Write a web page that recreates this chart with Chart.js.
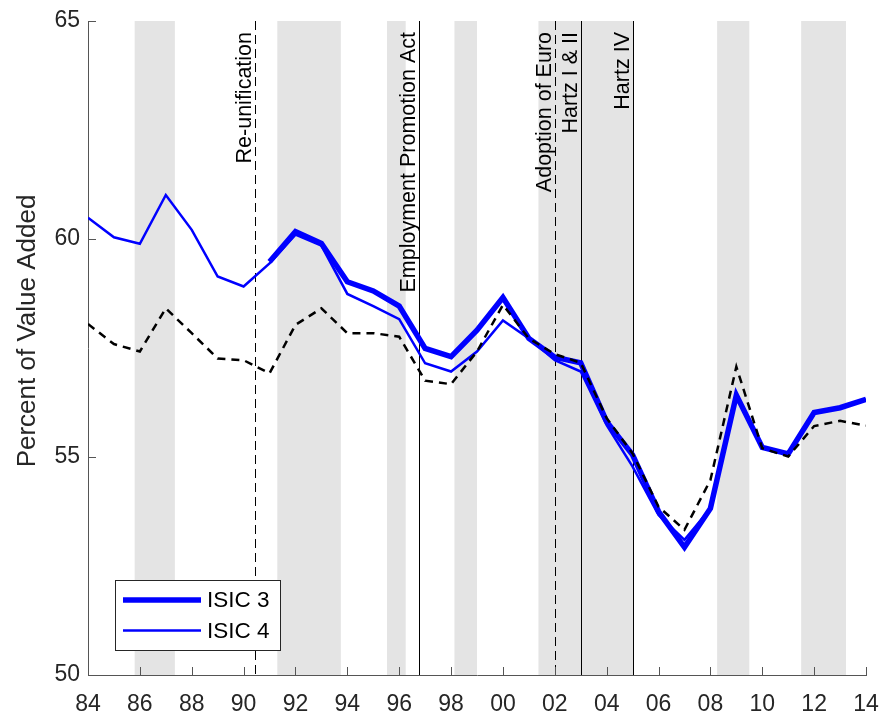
<!DOCTYPE html>
<html>
<head>
<meta charset="utf-8">
<title>Percent of Value Added</title>
<script src="https://cdn.jsdelivr.net/npm/chart.js@4.4.1/dist/chart.umd.min.js"></script>
<style>
  html, body { margin: 0; padding: 0; background: #fff; }
  canvas { display: block; }
</style>
</head>
<body>
<canvas id="chart" width="881" height="715"></canvas>
<script>
// ── Data ──────────────────────────────────────────────────────────────────────
const years = [1984, 1985, 1986, 1987, 1988, 1989, 1990, 1991, 1992, 1993, 1994,
    1995, 1996, 1997, 1998, 1999, 2000, 2001, 2002, 2003, 2004, 2005, 2006, 2007,
    2008, 2009, 2010, 2011, 2012, 2013, 2014];

const isic3Values = [null, null, null, null, null, null, null, 59.48, 60.17, 59.90,
    59.02, 58.81, 58.46, 57.49, 57.30, 57.91, 58.66, 57.72, 57.29, 57.16, 55.81,
    55.05, 53.75, 52.93, 53.82, 56.42, 55.22, 55.07, 56.02, 56.13, 56.32];

const isic4Values = [60.49, 60.04, 59.89, 61.01, 60.21, 59.14, 58.91, 59.44, 60.10,
    59.85, 58.74, 58.46, 58.16, 57.15, 56.96, 57.42, 58.13, 57.72, 57.22, 56.96,
    55.73, 54.78, 53.67, 53.10, 53.82, 56.42, 55.22, 55.07, 56.02, 56.13, 56.32];

const dashedValues = [58.05, 57.59, 57.42, 58.41, 57.84, 57.26, 57.22, 56.92, 58.03,
    58.41, 57.84, 57.84, 57.76, 56.75, 56.67, 57.42, 58.49, 57.72, 57.36, 57.16,
    55.89, 55.08, 53.86, 53.33, 54.47, 57.07, 55.20, 55.01, 55.71, 55.83, 55.72];

const xTickLabels = ["84", "86", "88", "90", "92", "94", "96", "98", "00", "02",
    "04", "06", "08", "10", "12", "14"];
const yTickLabels = ["50", "55", "60", "65"];

// shaded periods
const recessionStarts = [1985.8, 1991.3, 1995.53, 1998.13, 2001.37, 2008.26, 2011.5];
const recessionEnds = [1987.35, 1993.75, 1996.25, 1999.0, 2005.03, 2009.5, 2013.23];

// policy events
const eventYears = [1990.44, 1996.78, 2002.0, 2003.0, 2005.0];
const eventLabels = ["Re-unification", "Employment Promotion Act", "Adoption of Euro",
    "Hartz I & II", "Hartz IV"];
const eventDashed = [true, false, true, false, false];

const yTitle = "Percent of Value Added";

// ── Helpers ───────────────────────────────────────────────────────────────────
const FONT = "'Liberation Sans', Arial, Helvetica, sans-serif";
const TEXT = "#262626";
const AXIS = "#555";

const toPoints = (vals) => years.map((yr, i) => ({ x: yr, y: vals[i] }));

// ── Plugins ───────────────────────────────────────────────────────────────────
const backdrop = {
    id: "backdrop",
    beforeDraw(chart) {
        const { ctx, chartArea: a, scales: { x } } = chart;
        ctx.save();

        ctx.fillStyle = "#e4e4e4";
        recessionStarts.forEach((s, i) => {
            const x0 = x.getPixelForValue(s);
            const x1 = x.getPixelForValue(recessionEnds[i]);
            ctx.fillRect(x0, a.top, x1 - x0, a.bottom - a.top);
        });

        ctx.strokeStyle = "#000";
        ctx.lineWidth = 1;
        eventYears.forEach((yr, i) => {
            const px = Math.round(x.getPixelForValue(yr)) + 0.5;
            ctx.setLineDash(eventDashed[i] ? [9, 5] : []);
            ctx.beginPath();
            ctx.moveTo(px, a.top);
            ctx.lineTo(px, a.bottom);
            ctx.stroke();
        });
        ctx.setLineDash([]);

        ctx.fillStyle = "#000";
        ctx.font = `21.5px ${FONT}`;
        ctx.textAlign = "right";
        ctx.textBaseline = "alphabetic";
        eventYears.forEach((yr, i) => {
            const px = x.getPixelForValue(yr);
            ctx.save();
            ctx.translate(px - 4, a.top + 11);
            ctx.rotate(-Math.PI / 2);
            ctx.fillText(eventLabels[i], 0, 0);
            ctx.restore();
        });

        // y axis title, centred a little above the axis middle as in the original
        ctx.fillStyle = TEXT;
        ctx.font = `26px ${FONT}`;
        ctx.textAlign = "center";
        ctx.textBaseline = "middle";
        ctx.translate(28, 331);
        ctx.rotate(-Math.PI / 2);
        ctx.fillText(yTitle, 0, 0);
        ctx.restore();
    },
};

// MATLAB style ticks point into the plot
const innerTicks = {
    id: "innerTicks",
    beforeDatasetsDraw(chart) {
        const { ctx, chartArea: a, scales: { x, y } } = chart;
        ctx.save();
        ctx.strokeStyle = AXIS;
        ctx.lineWidth = 1;
        ctx.beginPath();
        x.ticks.forEach((t) => {
            const px = Math.round(x.getPixelForValue(t.value)) + 0.5;
            ctx.moveTo(px, a.bottom);
            ctx.lineTo(px, a.bottom - 8);
        });
        y.ticks.forEach((t) => {
            const py = Math.round(y.getPixelForValue(t.value)) + 0.5;
            ctx.moveTo(a.left, py);
            ctx.lineTo(a.left + 8, py);
        });
        ctx.stroke();
        ctx.restore();
    },
};

const boxLegend = {
    id: "boxLegend",
    afterDraw(chart) {
        const { ctx } = chart;
        const shown = chart.data.datasets.filter((d) => d.label);
        ctx.save();
        ctx.fillStyle = "#fff";
        ctx.fillRect(115, 580, 165, 70);
        ctx.strokeStyle = "#262626";
        ctx.lineWidth = 1;
        ctx.strokeRect(115.5, 580.5, 165, 70);

        ctx.font = `22.5px ${FONT}`;
        ctx.textAlign = "left";
        ctx.textBaseline = "middle";
        shown.forEach((d, i) => {
            const ly = 600 + i * 30.5;
            ctx.strokeStyle = d.borderColor;
            ctx.lineWidth = d.borderWidth;
            ctx.beginPath();
            ctx.moveTo(123, ly);
            ctx.lineTo(201, ly);
            ctx.stroke();
            ctx.fillStyle = "#000";
            ctx.fillText(d.label, 207, ly + 1);
        });
        ctx.restore();
    },
};

// ── Chart ─────────────────────────────────────────────────────────────────────
new Chart(document.getElementById("chart").getContext("2d"), {
    type: "line",
    data: {
        datasets: [
            {
                label: "ISIC 3",
                data: toPoints(isic3Values),
                borderColor: "#0000ff",
                borderWidth: 5.5,
                pointRadius: 0,
                order: 2,
            },
            {
                label: "ISIC 4",
                data: toPoints(isic4Values),
                borderColor: "#0000ff",
                borderWidth: 2.5,
                pointRadius: 0,
                order: 1,
            },
            {
                label: "",
                data: toPoints(dashedValues),
                borderColor: "#000",
                borderWidth: 2.5,
                borderDash: [8, 6],
                pointRadius: 0,
                order: 0,
            },
        ],
    },
    options: {
        responsive: false,
        animation: false,
        devicePixelRatio: 1,
        layout: { padding: { top: 21, right: 15, left: 0, bottom: 0 } },
        plugins: {
            legend: { display: false },
            tooltip: { enabled: false },
        },
        elements: { line: { tension: 0, borderJoinStyle: "miter", borderCapStyle: "butt" } },
        scales: {
            x: {
                type: "linear",
                min: 1984,
                max: 2014,
                afterFit: (s) => {
                    s.height = 40;
                    s.paddingLeft = 0;
                    s.paddingRight = 0;
                },
                grid: { drawOnChartArea: false, drawTicks: false },
                border: { color: AXIS, width: 1 },
                ticks: {
                    stepSize: 2,
                    autoSkip: false,
                    maxRotation: 0,
                    padding: 16,
                    color: TEXT,
                    font: { family: FONT, size: 23 },
                    callback: (v, i) => xTickLabels[i],
                },
            },
            y: {
                min: 50,
                max: 65,
                afterFit: (s) => {
                    s.width = 88;
                    s.paddingTop = 0;
                    s.paddingBottom = 0;
                },
                grid: { drawOnChartArea: false, drawTicks: false },
                border: { color: AXIS, width: 1 },
                ticks: {
                    stepSize: 5,
                    padding: 8,
                    color: TEXT,
                    font: { family: FONT, size: 23 },
                    callback: (v, i) => yTickLabels[i],
                },
            },
        },
    },
    plugins: [backdrop, innerTicks, boxLegend],
});
</script>
</body>
</html>
